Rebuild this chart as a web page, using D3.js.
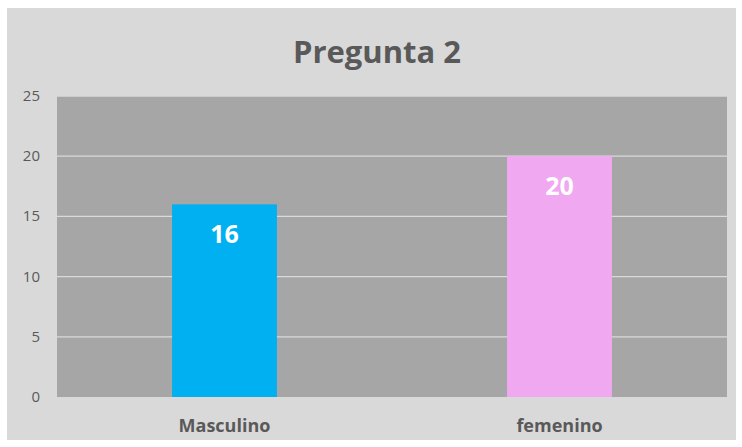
<!DOCTYPE html>
<html lang="en">
<head>
<meta charset="UTF-8">
<title>Pregunta 2</title>
<style>
  body { margin: 0; background: #fff; }
  text { font-family: "Open Sans", "Noto Sans", sans-serif; }
</style>
</head>
<body>
<script src="https://cdn.jsdelivr.net/npm/d3@7"></script>
<script>
// data
const categories = ['Masculino', 'femenino'];
const values = [16, 20];
const barColors = ['#00b0f0', '#f0a8f0'];
const yTicks = [0, 5, 10, 15, 20, 25];

const w = 742;
const h = 447;
const plot = { left: 57, right: 727, top: 96, bottom: 397 };

const svg = d3.select('body')
    .append('svg')
    .attr('width', w)
    .attr('height', h);

// chart background
svg.append('rect')
    .attr('x', 7).attr('y', 8)
    .attr('width', 729).attr('height', 432)
    .attr('fill', '#d9d9d9');

// plot area
svg.append('rect')
    .attr('x', plot.left).attr('y', plot.top)
    .attr('width', plot.right - plot.left).attr('height', plot.bottom - plot.top)
    .attr('fill', '#a6a6a6');

const x = d3.scaleBand()
    .domain(categories)
    .range([plot.left, plot.right])
    .padding(0);

const y = d3.scaleLinear()
    .domain([0, 25])
    .range([plot.bottom, plot.top]);

// gridlines
svg.selectAll('.grid')
    .data(yTicks.filter(d => d > 0))
    .enter()
    .append('line')
    .attr('x1', plot.left).attr('x2', plot.right)
    .attr('y1', d => y(d)).attr('y2', d => y(d))
    .attr('stroke', '#d9d9d9')
    .attr('stroke-width', 1.3);

// y axis labels
svg.selectAll('.ytick')
    .data(yTicks)
    .enter()
    .append('text')
    .attr('x', 40)
    .attr('y', d => y(d) + 5)
    .attr('text-anchor', 'end')
    .attr('font-size', '15px')
    .attr('fill', '#595959')
    .text(d => d);

const barW = x.bandwidth() * 0.313;

svg.selectAll('.bar')
    .data(values)
    .enter()
    .append('rect')
    .attr('x', (d, i) => x(categories[i]) + (x.bandwidth() - barW) / 2)
    .attr('y', d => y(d))
    .attr('width', barW)
    .attr('height', d => y(0) - y(d))
    .attr('fill', (d, i) => barColors[i]);

// value labels
svg.selectAll('.val')
    .data(values)
    .enter()
    .append('text')
    .attr('x', (d, i) => x(categories[i]) + x.bandwidth() / 2)
    .attr('y', d => y(d) + 39)
    .attr('text-anchor', 'middle')
    .attr('font-size', '25px')
    .attr('font-weight', 'bold')
    .attr('fill', '#ffffff')
    .text(d => d);

// category labels
svg.selectAll('.cat')
    .data(categories)
    .enter()
    .append('text')
    .attr('x', d => x(d) + x.bandwidth() / 2)
    .attr('y', 432)
    .attr('text-anchor', 'middle')
    .attr('font-size', '18px')
    .attr('font-weight', 'bold')
    .attr('fill', '#595959')
    .text(d => d);

// title
svg.append('text')
    .attr('x', 377)
    .attr('y', 63)
    .attr('text-anchor', 'middle')
    .attr('font-size', '31px')
    .attr('font-weight', 'bold')
    .attr('fill', '#595959')
    .text('Pregunta 2');
</script>
</body>
</html>
